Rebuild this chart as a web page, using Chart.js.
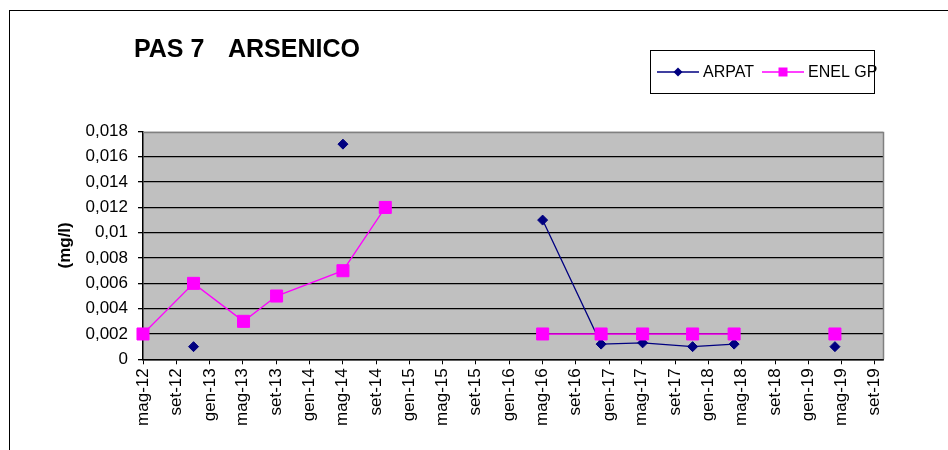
<!DOCTYPE html>
<html>
<head>
<meta charset="utf-8">
<script src="https://cdn.jsdelivr.net/npm/chart.js@4.4.1/dist/chart.umd.min.js"></script>
<style>
  html, body { margin: 0; padding: 0; background: #ffffff; }
  #wrap { width: 948px; height: 450px; position: relative; }
</style>
</head>
<body>
<div id="wrap"><canvas id="c" width="948" height="450"></canvas></div>
<script>
// Sampling dates (one row per campaign) and arsenic concentrations in mg/l; null = not sampled
const sampleDates = ['2012-05-01', '2012-11-02', '2013-05-04', '2013-09-02', '2014-05-03', '2014-10-05',
                     '2016-05-03', '2016-12-03', '2017-05-04', '2017-11-03', '2018-04-04', '2019-04-08'];
const arpatValues = [null, 0.001, null, null, 0.017, null,
                     0.011, 0.0012, 0.0013, 0.001, 0.0012, 0.001];
const enelValues  = [0.002, 0.006, 0.003, 0.005, 0.007, 0.012,
                     0.002, 0.002, 0.002, 0.002, 0.002, 0.002];
const seriesNames = ['ARPAT', 'ENEL GP'];

// Axis settings
const monthNames = ['gen', 'feb', 'mar', 'apr', 'mag', 'giu', 'lug', 'ago', 'set', 'ott', 'nov', 'dic'];
const axisStart = '2012-05-01';
const axisEnd = '2019-10-01';
const tickStepMonths = 4;
const yMin = 0, yMax = 0.018, yStep = 0.002;
const titleParts = ['PAS 7', 'ARSENICO'];
const yAxisTitle = '(mg/l)';
// Samples further apart than this (days) are not joined by a line
const maxJoinGapDays = 300;

const DAY_MS = 86400000;
const FONT = '"Liberation Sans", Arial, sans-serif';

function dayNumber(iso) {
  const [y, m, d] = iso.split('-').map(Number);
  return Date.UTC(y, m - 1, d) / DAY_MS;
}

function monthLabel(day) {
  const dt = new Date(day * DAY_MS);
  return monthNames[dt.getUTCMonth()] + '-' + String(dt.getUTCFullYear() % 100).padStart(2, '0');
}

// First-of-month tick positions every few months across the axis
function monthTicks(startIso, endIso, step) {
  const [sy, sm] = startIso.split('-').map(Number);
  const end = dayNumber(endIso);
  const out = [];
  let y = sy, m = sm - 1;
  while (true) {
    const v = Date.UTC(y, m, 1) / DAY_MS;
    if (v > end) break;
    out.push(v);
    m += step;
    while (m > 11) { m -= 12; y += 1; }
  }
  return out;
}

const xValues = sampleDates.map(dayNumber);
const toPoints = vals => vals
  .map((v, i) => ({ x: xValues[i], y: v }))
  .filter(p => p.y !== null);
const xTickValues = monthTicks(axisStart, axisEnd, tickStepMonths);

function formatComma(v) {
  return String(Number(v.toFixed(4))).replace('.', ',');
}

// Frame, plot background, title and legend
const framePlugin = {
  id: 'frame',
  beforeDraw(chart) {
    const { ctx, chartArea: a } = chart;
    ctx.save();
    ctx.fillStyle = '#ffffff';
    ctx.fillRect(0, 0, chart.width, chart.height);
    ctx.strokeStyle = '#000000';
    ctx.lineWidth = 1;
    ctx.strokeRect(9.5, 10.5, chart.width + 20, chart.height + 20);
    ctx.fillStyle = '#c0c0c0';
    ctx.fillRect(a.left, a.top, a.right - a.left, a.bottom - a.top);
    ctx.fillStyle = '#000000';
    ctx.font = 'bold 25px ' + FONT;
    ctx.textBaseline = 'alphabetic';
    ctx.textAlign = 'left';
    ctx.fillText(titleParts[0], 134, 57);
    ctx.fillText(titleParts[1], 228, 57);
    ctx.restore();
  },
  beforeDatasetsDraw(chart) {
    const { ctx, chartArea: a } = chart;
    ctx.save();
    ctx.strokeStyle = '#808080';
    ctx.lineWidth = 1.5;
    ctx.beginPath();
    ctx.moveTo(a.left, Math.round(a.top) + 0.5);
    ctx.lineTo(Math.round(a.right) + 0.5, Math.round(a.top) + 0.5);
    ctx.lineTo(Math.round(a.right) + 0.5, a.bottom);
    ctx.stroke();
    ctx.restore();
  },
  afterDraw(chart) {
    const { ctx } = chart;
    ctx.save();
    ctx.strokeStyle = '#000000';
    ctx.lineWidth = 1;
    ctx.strokeRect(650.5, 50.5, 224, 43);
    const y = 72;
    const items = [
      { ds: chart.data.datasets[0], x0: 657, x1: 699, tx: 703 },
      { ds: chart.data.datasets[1], x0: 762, x1: 804, tx: 808 }
    ];
    items.forEach(it => {
      const c = it.ds.borderColor;
      ctx.strokeStyle = c;
      ctx.lineWidth = it.ds.borderWidth;
      ctx.beginPath();
      ctx.moveTo(it.x0, y);
      ctx.lineTo(it.x1, y);
      ctx.stroke();
      const cx = (it.x0 + it.x1) / 2;
      ctx.fillStyle = c;
      ctx.beginPath();
      if (it.ds.pointStyle === 'rectRot') {
        const r = 4.5;
        ctx.moveTo(cx, y - r);
        ctx.lineTo(cx + r, y);
        ctx.lineTo(cx, y + r);
        ctx.lineTo(cx - r, y);
        ctx.closePath();
      } else {
        const h = 4.5;
        ctx.rect(cx - h, y - h, 2 * h, 2 * h);
      }
      ctx.fill();
      ctx.fillStyle = '#000000';
      ctx.font = '16px ' + FONT;
      ctx.textBaseline = 'middle';
      ctx.textAlign = 'left';
      ctx.fillText(it.ds.label, it.tx, y + 1);
    });
    ctx.restore();
  }
};

new Chart(document.getElementById('c'), {
  type: 'line',
  data: {
    datasets: [
      {
        label: seriesNames[0],
        data: toPoints(arpatValues),
        order: 1,
        borderColor: '#000080',
        backgroundColor: '#000080',
        borderWidth: 1.3,
        pointStyle: 'rectRot',
        pointRadius: 5,
        pointBorderWidth: 1,
        pointHoverRadius: 5,
        spanGaps: maxJoinGapDays,
        tension: 0,
        clip: false
      },
      {
        label: seriesNames[1],
        data: toPoints(enelValues),
        order: 0,
        borderColor: '#ff00ff',
        backgroundColor: '#ff00ff',
        borderWidth: 1.3,
        pointStyle: 'rect',
        pointRadius: 8.5,
        pointBorderWidth: 1,
        pointHoverRadius: 8.5,
        spanGaps: maxJoinGapDays,
        tension: 0,
        clip: false
      }
    ]
  },
  options: {
    responsive: false,
    animation: false,
    events: [],
    layout: { padding: { top: 131.5, right: 65, bottom: 0, left: 10 } },
    plugins: {
      legend: { display: false },
      title: { display: false },
      tooltip: { enabled: false }
    },
    scales: {
      x: {
        type: 'linear',
        min: dayNumber(axisStart),
        max: dayNumber(axisEnd),
        afterBuildTicks: s => { s.ticks = xTickValues.map(v => ({ value: v })); },
        afterFit: s => { s.height = 90.7; },
        ticks: {
          autoSkip: false,
          minRotation: 90,
          maxRotation: 90,
          padding: 4,
          color: '#000000',
          font: { family: FONT, size: 17 },
          callback: v => monthLabel(v)
        },
        grid: {
          drawOnChartArea: false,
          drawTicks: true,
          tickLength: 5,
          tickColor: '#000000',
          tickWidth: 1
        },
        border: { display: true, color: '#000000', width: 1.5 }
      },
      y: {
        min: yMin,
        max: yMax,
        afterFit: s => { s.width = 133; },
        ticks: {
          stepSize: yStep,
          padding: 10,
          color: '#000000',
          font: { family: FONT, size: 17 },
          callback: v => formatComma(v)
        },
        grid: {
          color: c => (c.tick && Math.abs(c.tick.value - yMax) < 1e-9) ? 'rgba(0,0,0,0)' : '#000000',
          lineWidth: 1.3,
          drawTicks: true,
          tickLength: 5,
          tickColor: '#000000'
        },
        border: { display: true, color: '#000000', width: 1.5 },
        title: {
          display: true,
          text: yAxisTitle,
          color: '#000000',
          font: { family: FONT, size: 17, weight: 'bold' },
          padding: { top: 45, bottom: 0 }
        }
      }
    }
  },
  plugins: [framePlugin]
});
</script>
</body>
</html>
